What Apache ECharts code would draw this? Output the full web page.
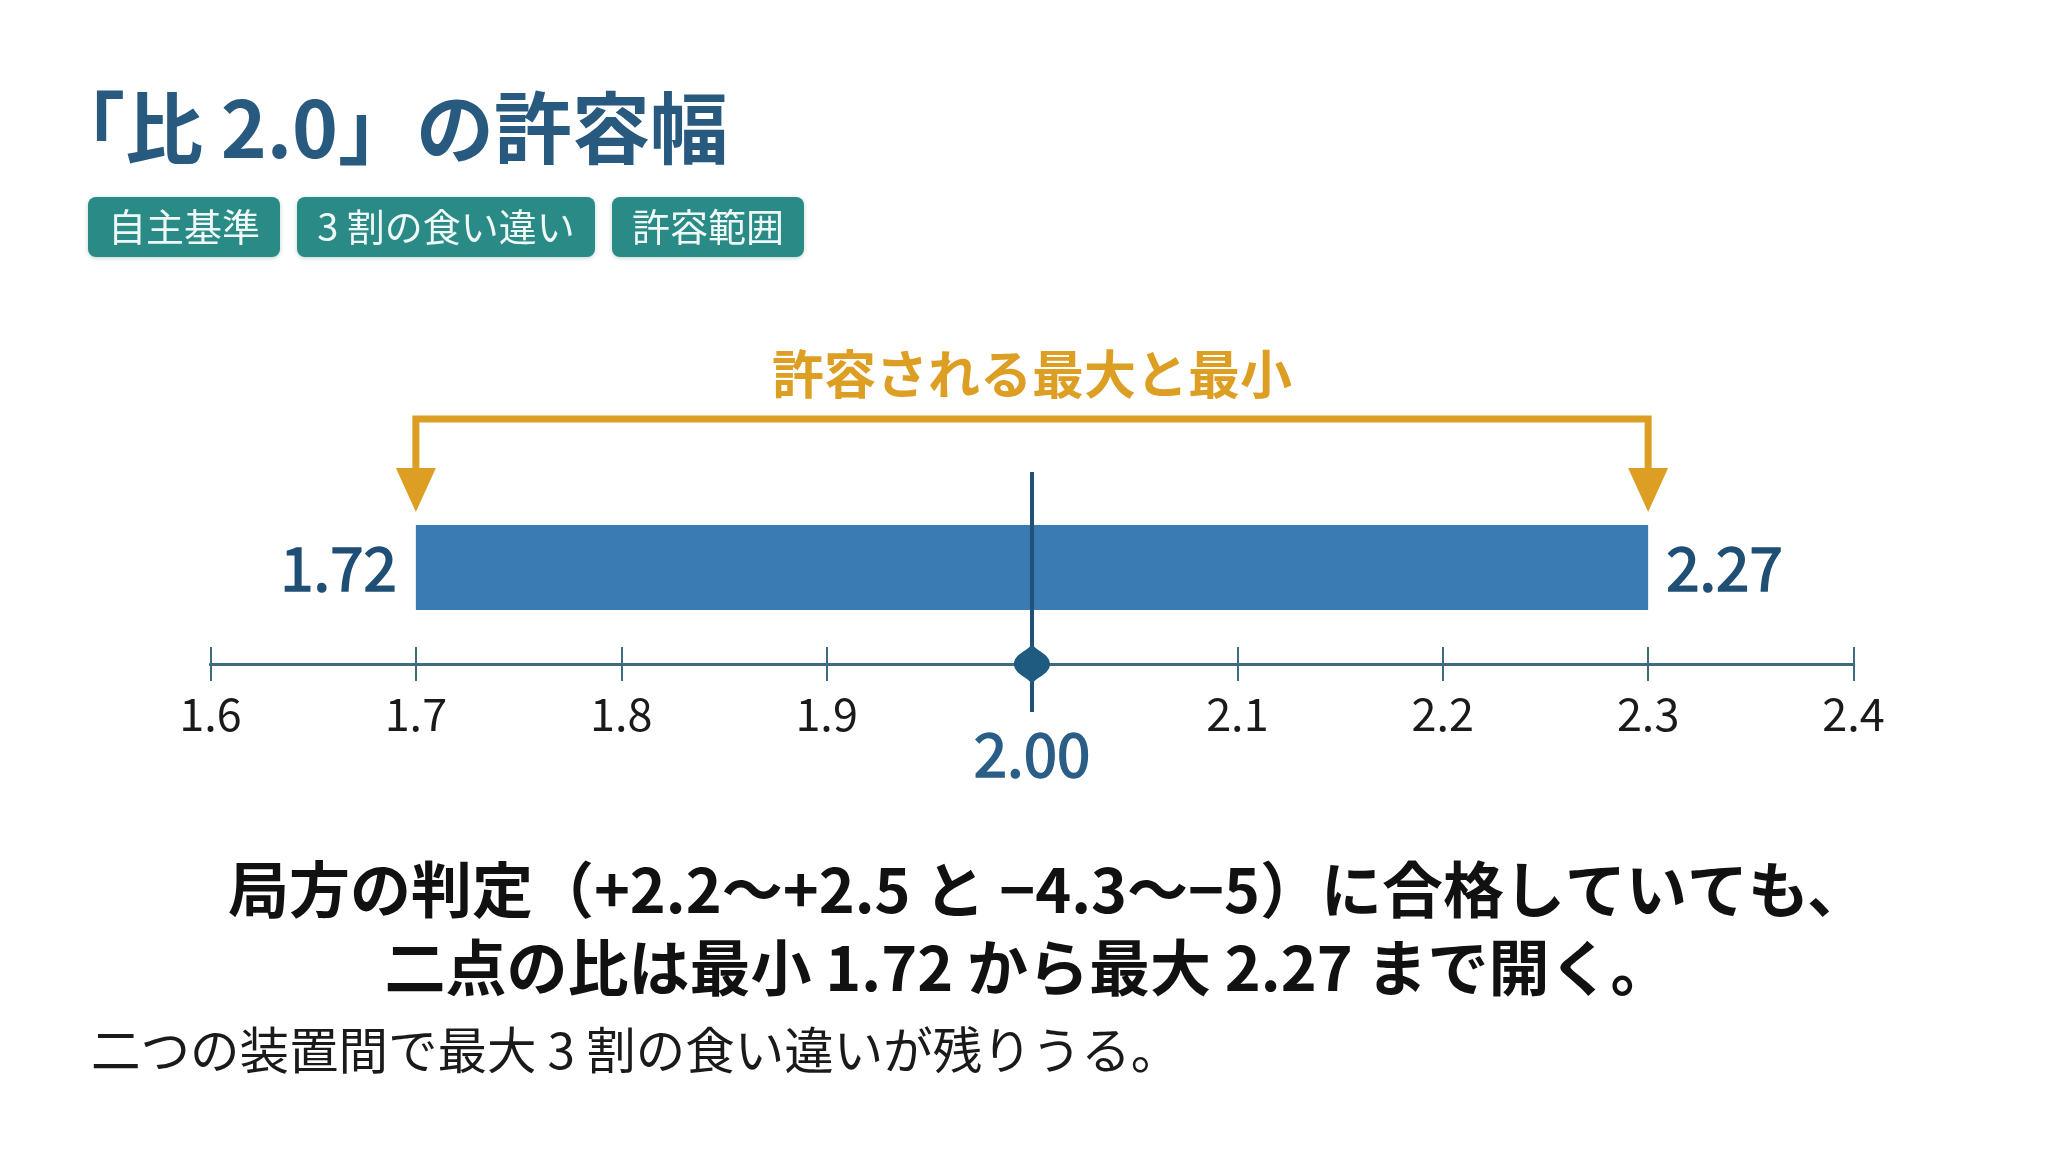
<!DOCTYPE html>
<html>
<head>
<meta charset="utf-8">
<script src="https://cdn.jsdelivr.net/npm/echarts@6/dist/echarts.min.js"></script>
<style>
  html, body { margin: 0; padding: 0; background: #ffffff; }
  #chart { width: 2064px; height: 1152px; }
</style>
</head>
<body>
<div id="chart"></div>
<script>
// ---- data ----
const titleText = '「比 2.0」の許容幅';
const tagLabels = ['自主基準', '3 割の食い違い', '許容範囲'];
const axisMin = 1.6;
const axisMax = 2.4;
const axisStep = 0.1;
const rangeDrawn = [1.7, 2.3];          // extent of the bar / bracket as drawn
const rangeLabels = ['1.72', '2.27'];   // values printed at the bar ends
const bracketLabel = '許容される最大と最小';
const centerValue = 2.0;
const centerLabel = '2.00';
const noteLines = [
  '局方の判定（+2.2〜+2.5 と −4.3〜−5）に合格していても、',
  '二点の比は最小 1.72 から最大 2.27 まで開く。'
];
const footNote = '二つの装置間で最大 3 割の食い違いが残りうる。';

// ---- styling ----
const FONT = '"Noto Sans CJK JP", "Noto Sans", sans-serif';
const C_TITLE = '#285a80';
const C_TAG = '#2a8a86';
const C_BAR = '#3b7bb4';
const C_ORANGE = '#dc9f24';
const C_AXIS = '#3f6b7e';
const C_DARK = '#1f4f74';

const chart = echarts.init(document.getElementById('chart'), null, { renderer: 'canvas' });

// measure tag widths
const mctx = document.createElement('canvas').getContext('2d');
const tagFont = '38px ' + FONT;
mctx.font = tagFont;
const tagGraphics = [];
let tx = 88;
tagLabels.forEach(function (t) {
  const w = Math.round(mctx.measureText(t).width) + 40;
  tagGraphics.push({
    type: 'rect', shape: { x: tx, y: 197, width: w, height: 60, r: 8 },
    style: { fill: C_TAG, shadowBlur: 4, shadowColor: 'rgba(0,80,80,0.25)', shadowOffsetY: 1 }
  });
  tagGraphics.push({
    type: 'text', x: tx + w / 2, y: 227,
    style: { text: t, font: tagFont, fill: '#eef8f6', align: 'center', verticalAlign: 'middle' }
  });
  tx += w + 17;
});

const numFont = '60px ' + FONT;

const rangeSeries = {
  type: 'custom',
  xAxisIndex: 0, yAxisIndex: 0,
  data: [[rangeDrawn[0], rangeDrawn[1]]],
  renderItem: function (params, api) {
    const p0 = api.coord([api.value(0), 0]);
    const p1 = api.coord([api.value(1), 0]);
    const x0 = p0[0], x1 = p1[0], yA = p0[1];
    const xm = (x0 + x1) / 2;
    return {
      type: 'group',
      children: [
        { type: 'rect', shape: { x: x0, y: yA - 139, width: x1 - x0, height: 85 },
          style: { fill: C_BAR } },
        { type: 'text', x: x0 - 19, y: yA - 96,
          style: { text: rangeLabels[0], font: numFont, fill: C_DARK, stroke: C_DARK, lineWidth: 1.6,
                   align: 'right', verticalAlign: 'middle' } },
        { type: 'text', x: x1 + 18, y: yA - 96,
          style: { text: rangeLabels[1], font: numFont, fill: C_DARK, stroke: C_DARK, lineWidth: 1.6,
                   align: 'left', verticalAlign: 'middle' } },
        { type: 'polyline', shape: { points: [[x0, yA - 194], [x0, yA - 245], [x1, yA - 245], [x1, yA - 194]] },
          style: { stroke: C_ORANGE, lineWidth: 7, fill: null, lineJoin: 'miter' } },
        { type: 'polygon', shape: { points: [[x0 - 20, yA - 196], [x0 + 20, yA - 196], [x0, yA - 152]] },
          style: { fill: C_ORANGE } },
        { type: 'polygon', shape: { points: [[x1 - 20, yA - 196], [x1 + 20, yA - 196], [x1, yA - 152]] },
          style: { fill: C_ORANGE } },
        { type: 'text', x: xm, y: yA - 290,
          style: { text: bracketLabel, font: 'bold 52px ' + FONT, fill: C_ORANGE, align: 'center', verticalAlign: 'middle' } }
      ]
    };
  },
  z: 3
};

const centerSeries = {
  type: 'custom',
  xAxisIndex: 0, yAxisIndex: 0,
  data: [[centerValue]],
  renderItem: function (params, api) {
    const p = api.coord([api.value(0), 0]);
    const xc = p[0], yA = p[1];
    return {
      type: 'group',
      children: [
        { type: 'line', shape: { x1: xc, y1: yA - 192, x2: xc, y2: yA + 48 },
          style: { stroke: '#1f5276', lineWidth: 4 } },
        { type: 'path',
          shape: { pathData: 'M17,0 C21,7 34,10 34,20 C34,30 21,33 17,40 C13,33 0,30 0,20 C0,10 13,7 17,0 Z',
                   x: xc - 18, y: yA - 20, width: 36, height: 40, layout: 'cover' },
          style: { fill: '#1f5a80' } },
        { type: 'text', x: xc, y: yA + 90,
          style: { text: centerLabel, font: numFont, fill: '#2a5e86', stroke: '#2a5e86', lineWidth: 1.6,
                   align: 'center', verticalAlign: 'middle' } }
      ]
    };
  },
  z: 4
};

const axisCommon = {
  type: 'value', min: axisMin, max: axisMax, interval: axisStep,
  position: 'bottom', gridIndex: 0,
  axisLine: { show: true, lineStyle: { color: C_AXIS, width: 3 } },
  splitLine: { show: false }
};

const option = {
  backgroundColor: '#ffffff',
  animation: false,
  grid: { left: 210.5, right: 210.5, top: 300, bottom: 488 },
  xAxis: [
    Object.assign({}, axisCommon, {
      axisTick: { show: true, inside: false, length: 17, lineStyle: { color: C_AXIS, width: 2 } },
      axisLabel: {
        show: true, margin: 27, color: '#1a1a1a', fontSize: 45, fontFamily: FONT, lineHeight: 45,
        formatter: function (v) { return Math.abs(v - centerValue) < 1e-9 ? '' : v.toFixed(1); }
      }
    }),
    Object.assign({}, axisCommon, {
      axisTick: { show: true, inside: true, length: 17, lineStyle: { color: C_AXIS, width: 2 } },
      axisLabel: { show: false }
    })
  ],
  yAxis: { type: 'value', min: 0, max: 1, show: false },
  series: [rangeSeries, centerSeries],
  graphic: [
    { type: 'text', x: 47, y: 128,
      style: { text: titleText, font: 'bold 78px ' + FONT, fill: C_TITLE, align: 'left', verticalAlign: 'middle' } }
  ].concat(tagGraphics).concat([
    { type: 'text', x: 1048, y: 890,
      style: { text: noteLines[0], font: 'bold 61px ' + FONT, fill: '#111111', align: 'center', verticalAlign: 'middle' } },
    { type: 'text', x: 1028, y: 968,
      style: { text: noteLines[1], font: 'bold 61px ' + FONT, fill: '#111111', align: 'center', verticalAlign: 'middle' } },
    { type: 'text', x: 91, y: 1050,
      style: { text: footNote, font: '49.5px ' + FONT, fill: '#1a1a1a', align: 'left', verticalAlign: 'middle' } }
  ])
};

chart.setOption(option);
</script>
</body>
</html>
